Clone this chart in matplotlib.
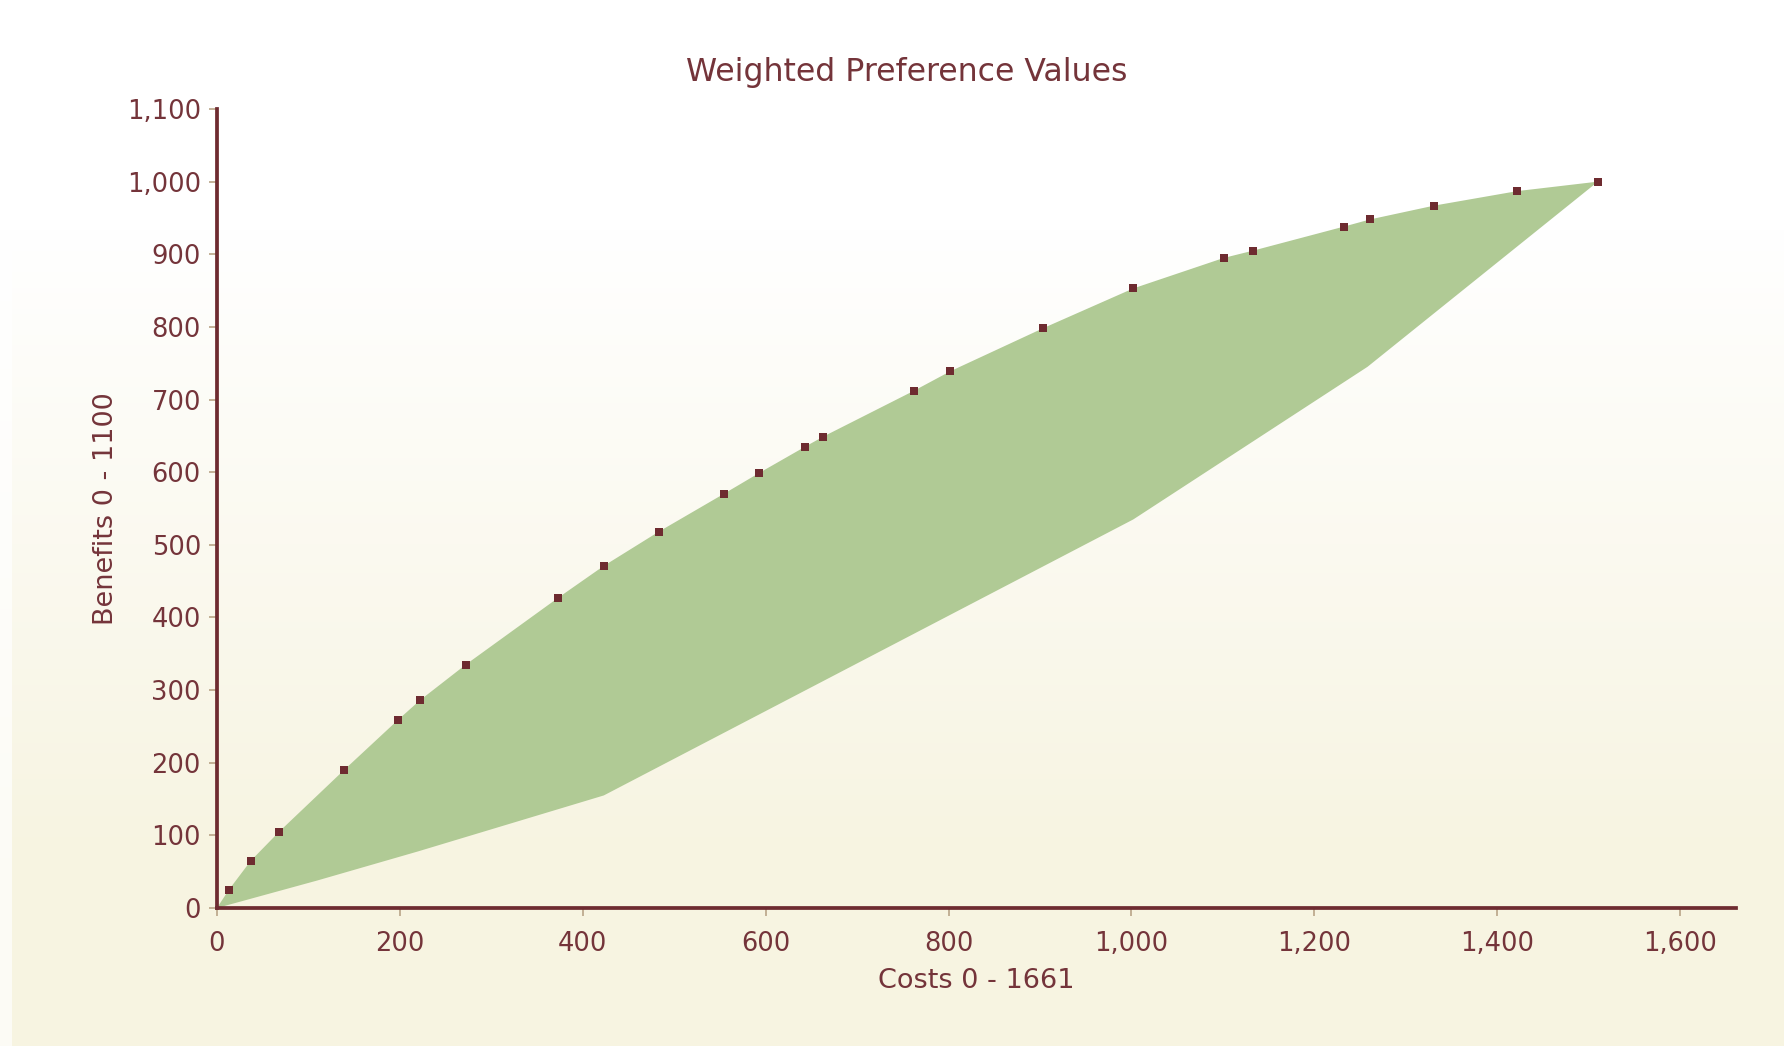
import matplotlib.pyplot as plt
import numpy as np
from matplotlib.ticker import FuncFormatter

# cumulative preference points (upper curve)
cost_pts = [0, 13, 37, 68, 139, 198, 222, 272, 373, 423, 483, 554, 593, 643, 663,
            762, 802, 903, 1002, 1101, 1133, 1232, 1261, 1331, 1422, 1510]
benefit_pts = [0, 25, 65, 105, 190, 259, 286, 335, 427, 471, 518, 570, 599, 635, 649,
               712, 739, 798, 853, 895, 905, 938, 948, 967, 987, 1000]

# lower bound of the shaded band
low_cost = [0, 110, 220, 423, 1002, 1258, 1510]
low_benefit = [0, 38, 78, 155, 535, 745, 1000]

x_ticks = [0, 200, 400, 600, 800, 1000, 1200, 1400, 1600]
y_ticks = [0, 100, 200, 300, 400, 500, 600, 700, 800, 900, 1000, 1100]

maroon = '#6e2b30'
text_col = '#74343a'
tick_col = '#b9a487'
fill_col = '#b0ca95'

fig = plt.figure(figsize=(17.84, 10.46), dpi=100)

# background gradient, white at top to cream at bottom
bg = fig.add_axes([0, 0, 1, 1], zorder=-1)
t = np.linspace(0, 1, 400)
t = np.clip((t - 0.22) / 0.6, 0, 1)
top = np.array([1.0, 1.0, 1.0])
bottom = np.array([0xf7, 0xf4, 0xe1]) / 255
grad = top[None, :] * (1 - t[:, None]) + bottom[None, :] * t[:, None]
img = np.repeat(grad[:, None, :], 149, axis=1)
img[:, 0] = img[:, 0] * 0.3 + 0.7  # thin lighter strip on the left edge
bg.imshow(img, aspect='auto', extent=[0, 1, 0, 1], origin='upper', interpolation='nearest')
bg.set_axis_off()

ax = fig.add_axes([0.1216, 0.1319, 0.8515, 0.7639])
ax.set_facecolor('none')

poly_x = cost_pts + low_cost[::-1]
poly_y = benefit_pts + low_benefit[::-1]
ax.fill(poly_x, poly_y, color=fill_col, lw=0, zorder=1)
ax.plot(cost_pts[1:], benefit_pts[1:], 's', color=maroon, ms=5.6, mew=0, zorder=3)

ax.set_xlim(0, 1661)
ax.set_ylim(0, 1100)
ax.set_xticks(x_ticks)
ax.set_yticks(y_ticks)
fmt = FuncFormatter(lambda v, p: f'{int(v):,}')
ax.xaxis.set_major_formatter(fmt)
ax.yaxis.set_major_formatter(fmt)

for s in ['top', 'right']:
    ax.spines[s].set_visible(False)
for s in ['left', 'bottom']:
    ax.spines[s].set_color(maroon)
    ax.spines[s].set_linewidth(2.7)
    ax.spines[s].set_zorder(4)

ax.tick_params(axis='both', direction='out', length=5.5, width=1.2, color=tick_col,
               labelcolor=text_col, labelsize=18.5)
ax.tick_params(axis='x', pad=11)
ax.tick_params(axis='y', pad=6)

ax.set_xlabel('Costs 0 - 1661', fontsize=19.5, color=text_col, labelpad=8)
ax.set_ylabel('Benefits 0 - 1100', fontsize=19.5, color=text_col, labelpad=6)
fig.text(907 / 1784, 1 - 72 / 1046, 'Weighted Preference Values', fontsize=22.7,
         color=text_col, ha='center', va='center')

plt.savefig('out.png', dpi=100)
